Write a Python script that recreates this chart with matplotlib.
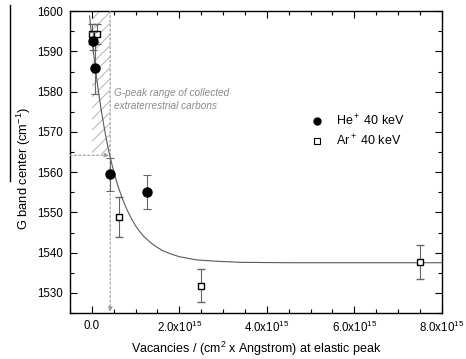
import matplotlib
matplotlib.use("Agg")
import matplotlib.pyplot as plt
from matplotlib.lines import Line2D
from matplotlib.ticker import MultipleLocator, FixedLocator

plt.rcParams['font.family'] = ['Liberation Sans', 'DejaVu Sans']
plt.rcParams['mathtext.fontset'] = 'custom'
plt.rcParams['mathtext.rm'] = 'Liberation Sans'
plt.rcParams['mathtext.it'] = 'Liberation Sans:italic'
plt.rcParams['hatch.linewidth'] = 0.6

# He+ 40 keV (filled circles), x in units of 1e15 vacancies/(cm2 x Angstrom)
he_x = [0.02, 0.08, 0.42, 1.27]
he_y = [1592.6, 1585.9, 1559.5, 1555.1]
he_err = [2.3, 6.4, 4.1, 4.15]

# Ar+ 40 keV (open squares)
ar_x = [0.0, 0.12, 0.63, 2.50, 7.51]
ar_y = [1594.3, 1594.3, 1548.8, 1531.8, 1537.6]
ar_err = [2.5, 2.5, 5.0, 4.1, 4.2]

# fitted decay curve
fit_x = [-0.05, 0.0, 0.05, 0.1, 0.15, 0.2, 0.25, 0.3, 0.35, 0.4, 0.5, 0.6, 0.7, 0.8, 0.9,
         1.0, 1.1, 1.2, 1.4, 1.6, 1.8, 2.0, 2.4, 2.8, 3.4, 4.5, 8.0]
fit_y = [1598.8, 1593.5, 1588.7, 1584.3, 1580.2, 1576.5, 1573.2, 1570.1, 1567.3, 1564.7,
         1560.2, 1556.5, 1553.4, 1550.8, 1548.6, 1546.7, 1545.2, 1543.9, 1542.0, 1540.6,
         1539.7, 1539.0, 1538.2, 1537.9, 1537.6, 1537.5, 1537.5]

# G-peak range of collected extraterrestrial carbons
gpeak_x = [0.0, 0.42]
gpeak_y = [1564.5, 1600.0]
gpeak_mark_y = 1564.2

xticks = [0, 2, 4, 6, 8]
xtick_labels = ['0.0', '2.0x10$^{15}$', '4.0x10$^{15}$', '6.0x10$^{15}$', '8.0x10$^{15}$']

fig = plt.figure(figsize=(4.66, 3.59), dpi=100)
ax = fig.add_axes([0.150, 0.128, 0.798, 0.841])

gray = '#5a5a5a'

# hatched range
ax.fill_between(gpeak_x, gpeak_y[0], gpeak_y[1], facecolor='none', edgecolor='#a8a8a8',
                hatch='///', linewidth=0)
ax.annotate('', xy=(gpeak_x[1], 1525.3), xytext=(gpeak_x[1], gpeak_y[1]),
            arrowprops=dict(arrowstyle='-|>', color='#9a9a9a', lw=0.8, ls=(0, (2, 2)),
                            mutation_scale=7, shrinkA=0, shrinkB=0))
ax.annotate('', xy=(gpeak_x[1] - 0.02, gpeak_mark_y), xytext=(-0.5, gpeak_mark_y),
            arrowprops=dict(arrowstyle='-|>', color='#9a9a9a', lw=0.8, ls=(0, (2, 2)),
                            mutation_scale=7, shrinkA=0, shrinkB=0))

ax.plot(fit_x, fit_y, color=gray, lw=0.8, zorder=3)

ax.errorbar(ar_x, ar_y, yerr=ar_err, fmt='s', ms=5, mfc='white', mec='black', mew=1.0,
            ecolor='#666666', elinewidth=0.8, capsize=3, capthick=0.8, zorder=4)
ax.errorbar(he_x, he_y, yerr=he_err, fmt='o', ms=6.5, mfc='black', mec='black',
            ecolor='#666666', elinewidth=0.8, capsize=3, capthick=0.8, zorder=5)

ax.text(0.5, 1578.0, 'G-peak range of collected\nextraterrestrial carbons',
        fontsize=7.2, style='italic', color='#8a8a8a', va='center', ha='left',
        linespacing=1.3)

ax.set_xlim(-0.5, 8.0)
ax.set_ylim(1525, 1600)
ax.xaxis.set_major_locator(FixedLocator(xticks))
ax.set_xticklabels(xtick_labels)
ax.xaxis.set_minor_locator(MultipleLocator(0.5))
ax.yaxis.set_major_locator(MultipleLocator(10))
ax.yaxis.set_minor_locator(MultipleLocator(5))
ax.tick_params(which='both', direction='in', top=True, right=True, labelsize=8.3, pad=5)
ax.tick_params(which='major', length=5, width=0.8)
ax.tick_params(which='minor', length=3, width=0.8)
for s in ax.spines.values():
    s.set_linewidth(1.0)

ax.set_xlabel('Vacancies / (cm$^2$ x Angstrom) at elastic peak', fontsize=9, labelpad=3)
ax.set_ylabel('G band center (cm$^{-1}$)', fontsize=9.3)
ax.yaxis.set_label_coords(-0.10, 0.48)

handles = [Line2D([], [], ls='none', marker='o', ms=5, color='black'),
           Line2D([], [], ls='none', marker='s', ms=4, mfc='white', mec='black', mew=0.8)]
ax.legend(handles, ['He$^+$ 40 keV', 'Ar$^+$ 40 keV'], frameon=False, fontsize=9,
          loc='upper left', bbox_to_anchor=(0.615, 0.70), handlelength=1.2,
          handletextpad=0.9, labelspacing=0.45)

# stray bar above the y label
fig.add_artist(Line2D([10 / 466, 10 / 466], [1 - 5 / 359, 1 - 181 / 359],
                      color='black', lw=1.0, transform=fig.transFigure))

fig.savefig('out.png', dpi=100)
